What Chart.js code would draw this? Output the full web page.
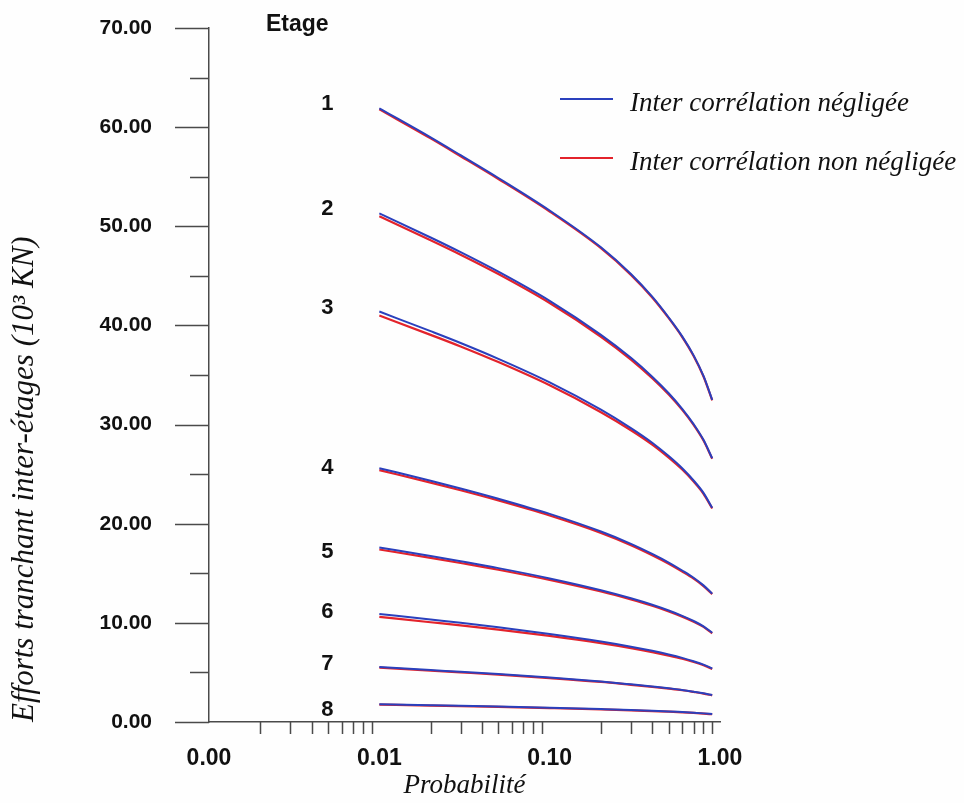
<!DOCTYPE html>
<html>
<head>
<meta charset="utf-8">
<script src="https://cdn.jsdelivr.net/npm/chart.js@4/dist/chart.umd.min.js"></script>
<style>
  html, body { margin: 0; padding: 0; background: #fefefe; }
  #wrap { width: 964px; height: 803px; position: relative; }
</style>
</head>
<body>
<div id="wrap"><canvas id="chart" width="964" height="803"></canvas></div>
<script>
// Probability of exceedance (x values shared by every curve)
const probabilities = [0.01, 0.02, 0.03, 0.05, 0.1, 0.2, 0.3, 0.4, 0.5, 0.6, 0.7, 0.8, 0.9];

// Storey numbers
const storeys = ['1', '2', '3', '4', '5', '6', '7', '8'];

// Inter-storey shear (10^3 kN) – cross-correlation neglected
const neglected1 = [61.9, 58.97, 57.17, 54.87, 51.59, 47.88, 45.19, 42.9, 40.8, 38.9, 36.98, 34.9, 32.5];
const neglected2 = [51.3, 48.87, 47.39, 45.42, 42.48, 39.05, 36.73, 34.83, 33.16, 31.59, 30.05, 28.46, 26.6];
const neglected3 = [41.4, 39.42, 38.23, 36.63, 34.26, 31.51, 29.65, 28.17, 26.82, 25.59, 24.36, 23.11, 21.6];
const neglected4 = [25.6, 24.34, 23.56, 22.52, 20.99, 19.21, 17.97, 16.95, 16.08, 15.28, 14.55, 13.78, 12.95];
const neglected5 = [17.6, 16.74, 16.21, 15.52, 14.48, 13.29, 12.48, 11.83, 11.25, 10.71, 10.19, 9.65, 9.0];
const neglected6 = [10.9, 10.33, 10.0, 9.55, 8.88, 8.12, 7.6, 7.18, 6.81, 6.47, 6.13, 5.79, 5.4];
const neglected7 = [5.55, 5.24, 5.07, 4.84, 4.49, 4.09, 3.8, 3.58, 3.4, 3.23, 3.06, 2.9, 2.72];
const neglected8 = [1.8, 1.7, 1.64, 1.56, 1.44, 1.3, 1.21, 1.13, 1.07, 1.0, 0.94, 0.87, 0.8];

// Inter-storey shear (10^3 kN) – cross-correlation taken into account
const correlated1 = [61.8, 58.87, 57.07, 54.77, 51.49, 47.79, 45.1, 42.82, 40.73, 38.83, 36.92, 34.85, 32.45];
const correlated2 = [51.0, 48.59, 47.13, 45.18, 42.26, 38.86, 36.56, 34.68, 33.03, 31.48, 29.96, 28.39, 26.55];
const correlated3 = [41.0, 39.05, 37.88, 36.3, 33.96, 31.25, 29.43, 27.98, 26.66, 25.46, 24.25, 23.02, 21.54];
const correlated4 = [25.4, 24.15, 23.38, 22.35, 20.83, 19.07, 17.84, 16.83, 15.97, 15.18, 14.46, 13.71, 12.9];
const correlated5 = [17.4, 16.56, 16.04, 15.36, 14.33, 13.16, 12.36, 11.73, 11.16, 10.63, 10.12, 9.59, 8.95];
const correlated6 = [10.6, 10.06, 9.75, 9.32, 8.68, 7.95, 7.45, 7.05, 6.7, 6.38, 6.05, 5.72, 5.35];
const correlated7 = [5.48, 5.17, 5.0, 4.78, 4.43, 4.04, 3.75, 3.54, 3.36, 3.2, 3.03, 2.87, 2.69];
const correlated8 = [1.75, 1.66, 1.6, 1.52, 1.4, 1.27, 1.18, 1.1, 1.04, 0.98, 0.92, 0.85, 0.78];

// Axis ticks
const xTickValues = [0.001, 0.01, 0.1, 1];
const xTickLabels = ['0.00', '0.01', '0.10', '1.00'];
const yTickValues = [0, 10, 20, 30, 40, 50, 60, 70];
const yTickLabels = ['0.00', '10.00', '20.00', '30.00', '40.00', '50.00', '60.00', '70.00'];

// Legend entries
const seriesNames = ['Inter corrélation négligée', 'Inter corrélation non négligée'];

const neglected = [neglected1, neglected2, neglected3, neglected4, neglected5, neglected6, neglected7, neglected8];
const correlated = [correlated1, correlated2, correlated3, correlated4, correlated5, correlated6, correlated7, correlated8];

const BLUE = '#2a40bd';
const RED = '#e3232b';
const AXIS = '#4a4a4a';

const toPoints = arr => arr.map((v, i) => ({ x: probabilities[i], y: v }));

// Blue curves first so they are painted above the red ones
const datasets = [];
neglected.forEach((arr, i) => datasets.push({
  label: seriesNames[0] + ' ' + storeys[i], data: toPoints(arr),
  borderColor: BLUE, borderWidth: 2
}));
correlated.forEach((arr, i) => datasets.push({
  label: seriesNames[1] + ' ' + storeys[i], data: toPoints(arr),
  borderColor: RED, borderWidth: 2.2
}));

// Tick marks, storey labels and legend drawn on top of the scales
const decorations = {
  id: 'decorations',
  afterDraw(chart) {
    const { ctx, scales: { x, y } } = chart;
    const axisX = x.left;
    const axisY = y.bottom;
    ctx.save();
    ctx.strokeStyle = AXIS;
    ctx.lineWidth = 1.5;
    ctx.beginPath();
    // y-axis: long ticks every 10, short ticks every 5
    for (let v = 0; v <= 70; v += 5) {
      const py = Math.round(y.getPixelForValue(v)) + 0.5;
      const len = v % 10 === 0 ? 34 : 19;
      ctx.moveTo(axisX - len, py);
      ctx.lineTo(axisX, py);
    }
    // x-axis: minor logarithmic ticks
    for (let d = 0; d < xTickValues.length - 1; d++) {
      for (let k = 2; k <= 9; k++) {
        const px = Math.round(x.getPixelForValue(xTickValues[d] * k)) + 0.5;
        ctx.moveTo(px, axisY);
        ctx.lineTo(px, axisY + 12);
      }
    }
    ctx.stroke();

    // storey numbers next to the first point of each curve (small vertical nudges, px)
    const nudge = [-4, -4, -4, 0, 4, -2, -3, 6];
    ctx.fillStyle = '#111';
    ctx.font = 'bold 22px "Liberation Sans", Arial, sans-serif';
    ctx.textAlign = 'center';
    ctx.textBaseline = 'middle';
    const labelX = x.getPixelForValue(probabilities[0]) - 52;
    storeys.forEach((s, i) => {
      ctx.fillText(s, labelX, y.getPixelForValue(neglected[i][0]) + nudge[i]);
    });
    ctx.font = 'bold 23px "Liberation Sans", Arial, sans-serif';
    ctx.fillText('Etage', labelX - 30, y.getPixelForValue(70) - 3);

    // legend
    const legend = [[BLUE, 99, 104], [RED, 158, 163]];
    ctx.font = 'italic 27px "Liberation Serif", "Times New Roman", serif';
    ctx.textAlign = 'left';
    legend.forEach(([color, ly, ty], i) => {
      ctx.strokeStyle = color;
      ctx.lineWidth = 2;
      ctx.beginPath();
      ctx.moveTo(560, ly);
      ctx.lineTo(613, ly);
      ctx.stroke();
      ctx.fillStyle = '#111';
      ctx.fillText(seriesNames[i], 630, ty);
    });
    ctx.restore();
  }
};

new Chart(document.getElementById('chart'), {
  type: 'line',
  data: { datasets },
  options: {
    responsive: false,
    animation: false,
    devicePixelRatio: 1,
    layout: { padding: { left: 0, right: 244, top: 28, bottom: 0 } },
    plugins: { legend: { display: false }, tooltip: { enabled: false } },
    elements: {
      point: { radius: 0 },
      line: { cubicInterpolationMode: 'monotone', fill: false }
    },
    scales: {
      x: {
        type: 'logarithmic',
        position: 'bottom',
        min: 0.001,
        max: 1,
        afterFit(scale) { scale.height = 81; },
        afterBuildTicks(scale) { scale.ticks = xTickValues.map(v => ({ value: v })); },
        ticks: {
          autoSkip: false,
          maxRotation: 0,
          padding: 0,
          color: '#111',
          font: { family: '"Liberation Sans", Arial, sans-serif', weight: 'bold', size: 23 },
          callback: (value) => xTickLabels[xTickValues.indexOf(value)] ?? ''
        },
        grid: { display: false, drawTicks: true, tickLength: 23 },
        border: { display: true, color: AXIS, width: 1.5 },
        title: {
          display: true,
          text: 'Probabilité',
          color: '#111',
          font: { family: '"Liberation Serif", "Times New Roman", serif', style: 'italic', size: 27 },
          padding: { top: 0, bottom: 1 }
        }
      },
      y: {
        min: 0,
        max: 70,
        afterFit(scale) { scale.width = 209; },
        afterBuildTicks(scale) { scale.ticks = yTickValues.map(v => ({ value: v })); },
        ticks: {
          padding: 0,
          color: '#111',
          font: { family: '"Liberation Sans", Arial, sans-serif', weight: 'bold', size: 21 },
          callback: (value) => yTickLabels[yTickValues.indexOf(value)] ?? ''
        },
        grid: { display: false, drawTicks: true, tickLength: 57 },
        border: { display: true, color: AXIS, width: 1.5 },
        title: {
          display: true,
          align: 'start',
          text: 'Efforts tranchant inter-étages (10³ KN)',
          color: '#111',
          font: { family: '"Liberation Serif", "Times New Roman", serif', style: 'italic', size: 31 },
          padding: { top: 6, bottom: 0 }
        }
      }
    }
  },
  plugins: [decorations]
});
</script>
</body>
</html>
